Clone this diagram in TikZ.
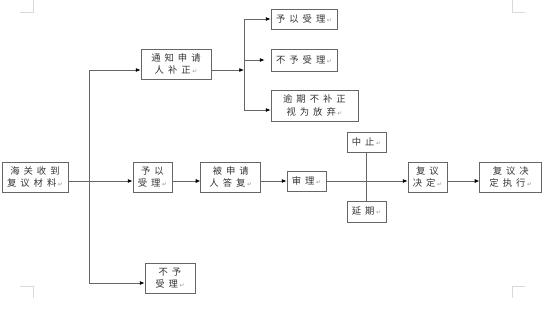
\documentclass[tikz,border=0pt]{standalone}
\usepackage{fontspec}
\newfontfamily\cjkfont{Noto Sans CJK SC}
\newfontfamily\symfont{DejaVu Sans}
\usetikzlibrary{arrows.meta, positioning}
\newcommand{\retmark}{\hspace{1.2pt}{\symfont\fontsize{4.5}{4.5}\selectfont\textcolor{black!40}{↵}}}
\newcommand{\boxfont}{\cjkfont\fontsize{7}{9.2}\selectfont\spaceskip 3pt\relax}

\begin{document}
\begin{tikzpicture}[x=0.75pt, y=-0.75pt,
    box/.style={rectangle, draw=black!60, line width=0.6pt, inner sep=0pt, align=center,
        text=black!80, font=\boxfont},
    line/.style={draw=black!60, line width=0.6pt},
    arrow/.style={line, -{Latex[length=3.5pt, width=3pt, color=black]}},
    cropmark/.style={draw=black!15, line width=0.6pt}
]

\useasboundingbox (0,0) rectangle (554,328);

% Page corners
\draw[cropmark] (20,12) -- (33,12) -- (33,0);
\draw[cropmark] (512,0) -- (512,12) -- (525,12);
\draw[cropmark] (20,286) -- (33,286) -- (33,298);
\draw[cropmark] (525,286) -- (512,286) -- (512,298);

% Boxes
\node[box, minimum width=49.5pt, minimum height=22.5pt] (received) at (35,177) {海 关 收 到\\复 议 材 料\retmark};
\node[box, minimum width=52.5pt, minimum height=22.5pt] (notify) at (176,64) {通 知 申 请\\人 补 正\retmark};
\node[box, minimum width=49.5pt, minimum height=15pt] (acceptA) at (304,19) {予 以 受 理\retmark};
\node[box, minimum width=49.5pt, minimum height=16.5pt] (refuseA) at (304,60) {不 予 受 理\retmark};
\node[box, minimum width=65.25pt, minimum height=23.25pt] (giveup) at (314.5,105.5) {逾 期 不 补 正\\视 为 放 弃\retmark};
\node[box, minimum width=29.25pt, minimum height=22.5pt] (accept) at (152.5,177) {予 以\\受 理\retmark};
\node[box, minimum width=45pt, minimum height=22.5pt, right=21pt of accept] (reply) {被 申 请\\人 答 复\retmark};
\node[box, minimum width=29.25pt, minimum height=15pt] (review) at (306.5,181) {审 理\retmark};
\node[box, minimum width=29.25pt, minimum height=15pt] (suspend) at (366.5,142) {中 止\retmark};
\node[box, minimum width=29.25pt, minimum height=15.75pt] (extend) at (366.5,211.5) {延 期\retmark};
\node[box, minimum width=29.25pt, minimum height=22.5pt] (decide) at (427.5,177) {复 议\\决 定\retmark};
\node[box, minimum width=46.5pt, minimum height=22.5pt, right=24pt of decide] (execute) {复 议 决\\定 执 行\retmark};
\node[box, minimum width=37.5pt, minimum height=22.5pt] (refuse) at (170,278) {不 予\\受 理\retmark};

% First fork
\coordinate (fork) at (89,181);
\coordinate (notifyIn) at ([yshift=-4.5pt]notify.west);
\coordinate (refuseIn) at ([yshift=-3.75pt]refuse.west);
\draw[line] (fork |- notifyIn) -- (fork |- refuseIn);
\draw[arrow] (fork |- notifyIn) -- (notifyIn);
\draw[arrow] (fork |- refuseIn) -- (refuseIn);
\draw[arrow] ([yshift=-3pt]received.east) -- ([yshift=-3pt]accept.west);

% Second fork
\coordinate (branch) at (244,70);
\coordinate (giveupIn) at ([yshift=-3.375pt]giveup.west);
\coordinate (refuseAIn) at ([xshift=-4.5pt]refuseA.west);
\draw[arrow] ([yshift=-4.5pt]notify.east) -- (branch);
\draw[line] (branch |- acceptA.west) -- (branch |- giveupIn);
\draw[arrow] (branch |- acceptA.west) -- (acceptA.west);
\draw[arrow] (branch |- refuseAIn) -- (refuseAIn);
\draw[arrow] (branch |- giveupIn) -- (giveupIn);

% Main row
\draw[arrow] ([yshift=-3pt]accept.east) -- ([yshift=-3pt]reply.west);
\draw[arrow] ([yshift=-3pt]reply.east) -- (review.west);
\draw[arrow] (review.east) -- ([yshift=-3pt]decide.west);
\draw[line] (suspend.south) -- (extend.north);
\draw[arrow] ([yshift=-3pt]decide.east) -- ([yshift=-3pt]execute.west);

\end{tikzpicture}
\end{document}
